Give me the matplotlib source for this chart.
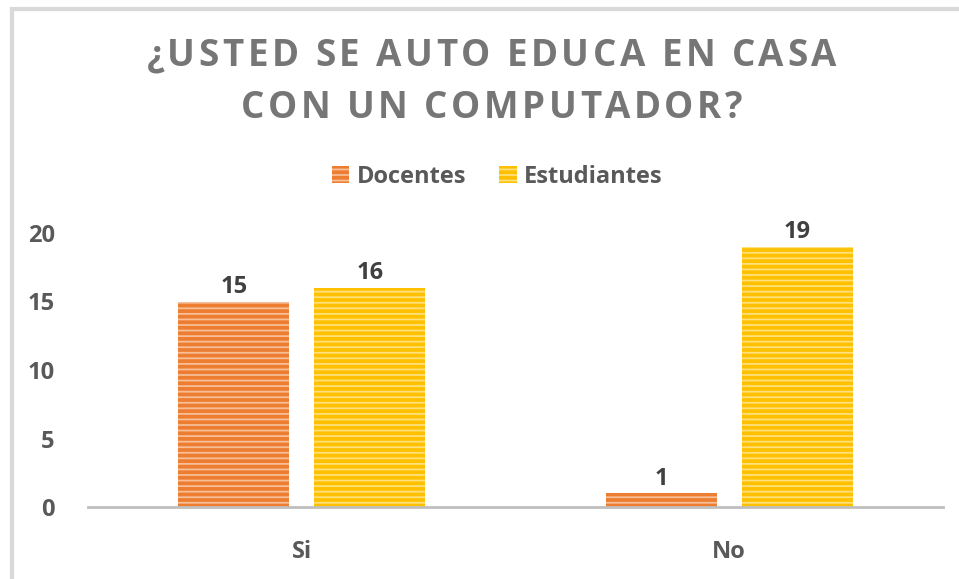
import matplotlib
matplotlib.use('Agg')
import numpy as np
import matplotlib.pyplot as plt
from matplotlib.patches import Rectangle
from matplotlib.font_manager import FontProperties

categories = ['Si', 'No']
docentes = [15, 1]
estudiantes = [16, 19]
series_names = ['Docentes', 'Estudiantes']
title_lines = ['¿USTED SE AUTO EDUCA EN CASA', 'CON UN COMPUTADOR?']

plt.rcParams['font.family'] = ['Open Sans', 'DejaVu Sans']
plt.rcParams['hatch.linewidth'] = 1.3

orange = '#ED7D31'
orange_light = '#F7BE98'
yellow = '#FFC000'
yellow_light = '#FFE07A'
text_gray = '#595959'

fig = plt.figure(figsize=(9.59, 5.79), dpi=100)
ax = fig.add_axes([88 / 959, 1 - 507 / 579, (943 - 88) / 959, (507 - 233) / 579])

x = np.arange(len(categories))
w = 0.26
gap = 0.058
off = (w + gap) / 2

b1 = ax.bar(x - off, docentes, w, color=orange, edgecolor=orange_light, linewidth=0,
            hatch='---', label=series_names[0])
b2 = ax.bar(x + off, estudiantes, w, color=yellow, edgecolor=yellow_light, linewidth=0,
            hatch='---', label=series_names[1])

for bars in (b1, b2):
    for r in bars:
        ax.text(r.get_x() + r.get_width() / 2, r.get_height() + 0.2, f'{int(r.get_height())}',
                ha='center', va='bottom', fontsize=17, fontweight='bold', color='#404040')

ax.set_xlim(-0.5, 1.5)
ax.set_ylim(0, 20)
ax.set_yticks([0, 5, 10, 15, 20])
ax.set_xticks(x)
ax.set_xticklabels(categories)
for s in ['top', 'right', 'left']:
    ax.spines[s].set_visible(False)
ax.spines['bottom'].set_color('#BFBFBF')
ax.spines['bottom'].set_linewidth(2)
ax.tick_params(axis='both', length=0, labelsize=17, labelcolor=text_gray)
ax.tick_params(axis='y', pad=24)
ax.tick_params(axis='x', pad=24)
for lbl in ax.get_xticklabels() + ax.get_yticklabels():
    lbl.set_fontweight('bold')

# title, drawn letter by letter to get the wide letter spacing
renderer = fig.canvas.get_renderer()
fp = FontProperties(family=['Open Sans', 'DejaVu Sans'], weight='bold', size=26.5)
spacing = 3.5  # px between letters
for line, yc in zip(title_lines, [56, 108]):
    widths = [renderer.get_text_width_height_descent(c, fp, ismath=False)[0] for c in line]
    total = sum(widths) + spacing * (len(line) - 1)
    xp = (959 - total) / 2 + 12
    for c, cw in zip(line, widths):
        fig.text(xp / 959, 1 - yc / 579, c, ha='left', va='center', fontproperties=fp,
                 color='#767676')
        xp += cw + spacing

leg = fig.legend(loc='center', bbox_to_anchor=(497 / 959, 1 - 177 / 579), ncol=2, frameon=False,
                 fontsize=17, handlelength=0.75, handleheight=0.75, handletextpad=0.3,
                 columnspacing=1.4)
for t in leg.get_texts():
    t.set_fontweight('bold')
    t.set_color(text_gray)

# chart border (cropped at right/bottom)
fig.patches.append(Rectangle((12 / 959, -0.05), 1.2, 1 - 8.5 / 579 + 0.05, transform=fig.transFigure,
                             fill=False, edgecolor='#D9D9D9', linewidth=3))

fig.savefig('out.png', dpi=100)
